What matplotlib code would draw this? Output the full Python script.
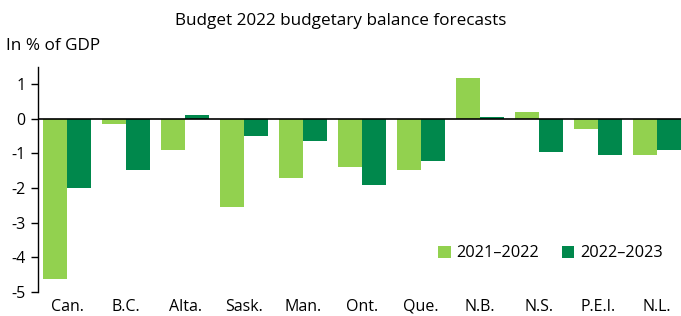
# Budget 2022 budgetary balance forecasts - grouped bar chart
import numpy as np
import matplotlib
matplotlib.use("Agg")
import matplotlib.pyplot as plt

# Data (in % of GDP)
provinces = ["Can.", "B.C.", "Alta.", "Sask.", "Man.", "Ont.", "Que.", "N.B.", "N.S.", "P.E.I.", "N.L."]
fy_2021_22 = [-4.62, -0.16, -0.91, -2.56, -1.72, -1.40, -1.49, 1.18, 0.20, -0.31, -1.06]
fy_2022_23 = [-2.00, -1.49, 0.11, -0.51, -0.63, -1.92, -1.23, 0.06, -0.97, -1.06, -0.89]
yticks = [1, 0, -1, -2, -3, -4, -5]

light = "#92d14f"
dark = "#00884c"

plt.rcParams["font.family"] = ["Open Sans", "DejaVu Sans"]

fig = plt.figure(figsize=(6.81, 3.16), dpi=100)
ax = fig.add_axes([0.0554, 0.076, 0.953, 0.713])

x = np.arange(len(provinces))
w = 0.41
ax.bar(x - w / 2, fy_2021_22, width=w, color=light, label="2021\u20132022")
ax.bar(x + w / 2, fy_2022_23, width=w, color=dark, label="2022\u20132023")
ax.axhline(0, color="black", lw=1.2, zorder=3)

ax.set_xlim(-0.5, len(provinces) - 0.5)
ax.set_ylim(-5, 1.5)
ax.set_yticks(yticks)
ax.set_yticklabels([str(v) for v in yticks], fontsize=11.5)
ax.set_xticks(x)
ax.set_xticklabels(provinces, fontsize=11.5)
ax.tick_params(axis="x", length=0, pad=5)
ax.tick_params(axis="y", length=5, width=1, direction="out", pad=4)

for s in ["top", "right", "bottom"]:
    ax.spines[s].set_visible(False)
ax.spines["left"].set_linewidth(1)

fig.text(0.5, 0.932, "Budget 2022 budgetary balance forecasts", ha="center", va="center", fontsize=12.3)
fig.text(0.009, 0.855, "In % of GDP", ha="left", va="center", fontsize=12.3)

ax.legend(loc="center right", bbox_to_anchor=(0.995, 0.198), bbox_transform=fig.transFigure,
          ncol=2, frameon=False, fontsize=11.8, handlelength=0.75, handleheight=0.75,
          handletextpad=0.35, columnspacing=1.4)

plt.savefig("out.png", dpi=100)
